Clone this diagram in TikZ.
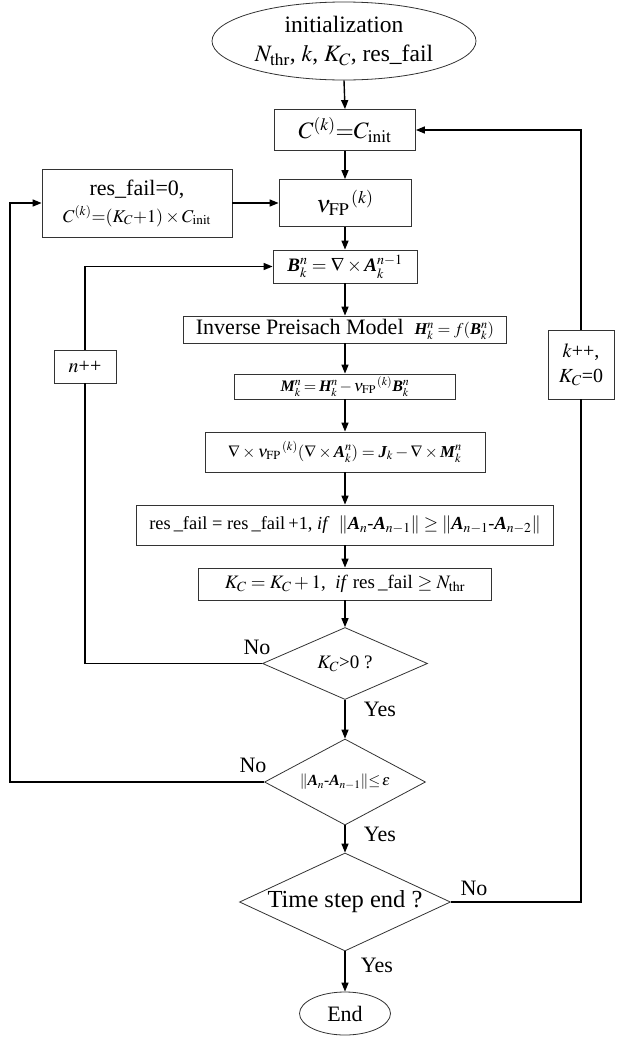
\documentclass[tikz,border=0pt]{standalone}
\usepackage{amsmath}
\usepackage{mathptmx}
\usepackage[no-math]{fontspec}
\setmainfont{Liberation Serif}
\usetikzlibrary{shapes.geometric,arrows.meta}
\newcommand{\vbf}[1]{\text{\bfseries\itshape #1}}
\newcommand{\nufp}{{\nu_{\mathrm{FP}}}^{\mkern2mu(k)}}
\begin{document}
\begin{tikzpicture}[x=1pt,y=-1pt,
 box/.style={draw=black!80, line width=0.8pt, fill=white, inner sep=0pt, align=center},
 arr/.style={line width=1.4pt, -{Triangle[length=9pt,width=7pt]}},
 ln/.style={line width=1.4pt},
 fs/.style={font=\fontsize{#1}{#1}\selectfont},
 lab/.style={font=\fontsize{22}{22}\selectfont, inner sep=0pt}]
\useasboundingbox (0,0) rectangle (616,1039);
\node[box, ellipse, minimum width=264pt, minimum height=78pt, fs=23.5] (init) at (344,41) {initialization\\[5pt]$N_{\mathrm{thr}}$, $k$, $K_C$, res\_fail};
\node[box, minimum width=141pt, minimum height=41pt, fs=23.5] (C) at (345,130) {$C^{(k)}{=}C_{\mathrm{init}}$};
\node[box, minimum width=190pt, minimum height=68pt, fs=22] (res) at (137,203) {res\_fail=0,\\[5pt]{\fontsize{18}{18}\selectfont$C^{(k)}{=}(K_C{+}1)\times C_{\mathrm{init}}$}};
\node[box, minimum width=132pt, minimum height=47pt, fs=24] (nu) at (345,203) {$\nufp$};
\node[box, minimum width=144pt, minimum height=33pt, fs=19] (B) at (345,266.5) {$\vbf{B}_k^n=\nabla\times\vbf{A}_k^{n-1}$};
\node[box, minimum width=323pt, minimum height=27pt, fs=22] (IP) at (345,329.5) {Inverse Preisach Model\ \ {\fontsize{16.5}{16.5}\selectfont$\vbf{H}_k^n=f(\vbf{B}_k^n)$}};
\node[box, minimum width=221pt, minimum height=25pt, fs=16] (M) at (345,386.5) {$\medmuskip=2mu\thickmuskip=3mu\vbf{M}_k^n=\vbf{H}_k^n-\nufp\vbf{B}_k^n$};
\node[box, minimum width=280pt, minimum height=40pt, fs=16.7] (curl) at (345,452) {$\nabla\times\nufp(\nabla\times\vbf{A}_k^n)=\vbf{J}_k-\nabla\times\vbf{M}_k^n$};
\node[box, minimum width=417pt, minimum height=40pt, fs=18.4] (rf) at (345,525) {res\,\_fail = res\,\_fail\,+1, \textit{if}\ \ $\|\vbf{A}_n$-$\vbf{A}_{n-1}\|\ge\|\vbf{A}_{n-1}$-$\vbf{A}_{n-2}\|$};
\node[box, minimum width=293pt, minimum height=32pt, fs=19] (kc) at (345,584) {$K_C=K_C+1$,\ \ \textit{if} res\,\_fail $\ge N_{\mathrm{thr}}$};
\node[box, diamond, aspect=2.3, minimum width=165pt, minimum height=72pt, fs=19] (d1) at (345,663.5) {$K_C$>0 ?};
\node[box, diamond, aspect=1.87, minimum width=161pt, minimum height=86pt, fs=15.5] (d2) at (345,782) {$\|\vbf{A}_n$-$\vbf{A}_{n-1}\|{\le}\,\varepsilon$};
\node[box, diamond, aspect=2.15, minimum width=211pt, minimum height=98pt, fs=24.5] (d3) at (345,902) {Time step end ?};
\node[box, ellipse, minimum width=91pt, minimum height=43pt, fs=22] (end) at (345,1013.5) {End};
\node[box, minimum width=62pt, minimum height=33pt, fs=20] (npp) at (85,366.5) {$n$++};
\node[box, minimum width=66pt, minimum height=69pt, fs=20] (kpp) at (581,364.5) {$k$++,\\[5pt]$K_C$=0};
\coordinate (L) at (10,782);
\draw[arr] (init.south) -- (C.north);
\draw[arr] (C.south) -- (nu.north);
\draw[arr] (res.east) -- (nu.west);
\draw[arr] (nu.south) -- (B.north);
\draw[arr] (B.south) -- (IP.north);
\draw[arr] (IP.south) -- (M.north);
\draw[arr] (M.south) -- (curl.north);
\draw[arr] (curl.south) -- (rf.north);
\draw[arr] (rf.south) -- (kc.north);
\draw[arr] (kc.south) -- (d1.north);
\draw[arr] (d1.south) -- (d2.north);
\draw[arr] (d2.south) -- (d3.north);
\draw[arr] (d3.south) -- (end.north);
\draw[ln] (d1.west) -| (npp.south);
\draw[arr] (npp.north) |- (B.west);
\draw[arr] (d2.west) -- (L) |- (res.west);
\draw[ln] (d3.east) -| (kpp.south);
\draw[arr] (kpp.north) |- (C.east);
\node[lab] (no1) at (257,647) {No};
\node[lab] (no2) at (253,765) {No};
\node[lab] (no3) at (474,888) {No};
\node[lab] (yes1) at (380,709) {Yes};
\node[lab] (yes2) at (380,834) {Yes};
\node[lab] (yes3) at (377,965) {Yes};
\end{tikzpicture}
\end{document}
